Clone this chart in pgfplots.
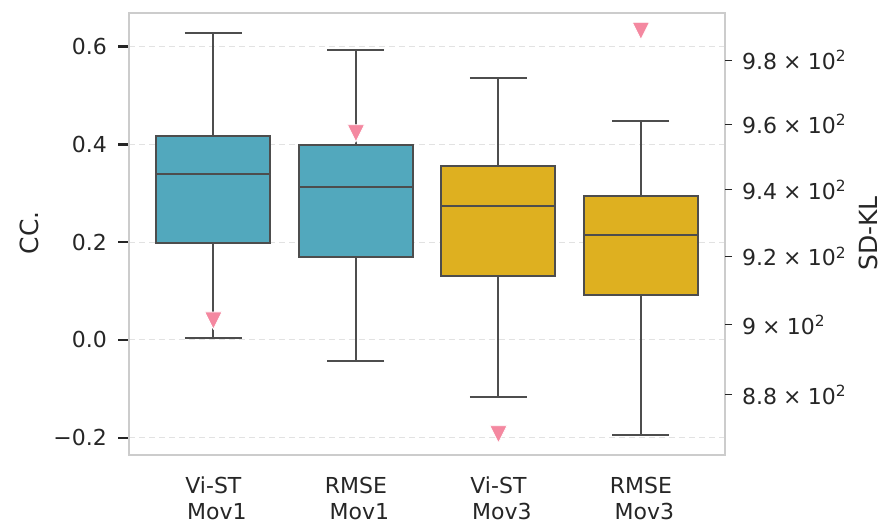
\documentclass[border=0pt]{standalone}
\usepackage{fontspec}
\setmainfont{DejaVu Sans}
\usepackage{pgfplots}
\usepackage{pgfplotstable}
\pgfplotsset{compat=1.18}
\usepgfplotslibrary{statistics}
\definecolor{cblue}{RGB}{82,168,189}
\definecolor{cyellow}{RGB}{222,176,32}
\definecolor{cpink}{RGB}{244,136,160}
\definecolor{cedge}{RGB}{77,77,77}
\definecolor{cframe}{RGB}{204,204,204}
\definecolor{cgrid}{RGB}{226,226,226}
\definecolor{ctext}{RGB}{38,38,38}
\pgfdeclareplotmark{tridown}{%
  \pgfpathmoveto{\pgfpoint{0pt}{-\pgfplotmarksize}}%
  \pgfpathlineto{\pgfpoint{-\pgfplotmarksize}{\pgfplotmarksize}}%
  \pgfpathlineto{\pgfpoint{\pgfplotmarksize}{\pgfplotmarksize}}%
  \pgfpathclose
  \pgfusepathqfillstroke}
\pgfplotstableread{
x y
0 901.2
1 957.2
2 868.8
3 989.3
}\sdkl
\newcommand{\sk}[1]{#1\hspace{0.28em}×\hspace{0.28em}10\textsuperscript{2}}
\pgfplotsset{
  base/.style={at={(0,0)}, anchor=south west,
    scale only axis, width=297.85pt, height=220.85pt,
    xmin=-0.59, xmax=3.59},
}
\begin{document}
\begin{tikzpicture}
\begin{axis}[base, ymin=-0.2352, ymax=0.6681,
  ytick={-0.2,0,0.2,0.4,0.6}, yticklabels={}, xtick=\empty,
  major tick length=0pt, tick style={draw=none},
  axis line style={draw=none},
  ymajorgrids, y grid style={cgrid, dash pattern=on 3pt off 2pt, line width=0.5pt}]
\end{axis}
\begin{axis}[base, ymin=-0.2352, ymax=0.6681,
  axis line style={draw=cframe, line width=1.2pt},
  ytick={-0.2,0,0.2,0.4,0.6}, yticklabels={−0.2,0.0,0.2,0.4,0.6},
  ytick pos=left, tick align=outside, major tick length=5.5pt,
  ytick style={draw=ctext, line width=1.2pt, solid},
  xtick={0,1,2,3},
  xticklabels={{Vi-ST\\\hspace*{0.318em}Mov1},{RMSE\\\hspace*{0.318em}Mov1},{Vi-ST\\\hspace*{0.318em}Mov3},{RMSE\\\hspace*{0.318em}Mov3}},
  xtick style={draw=none},
  tick label style={font=\fontsize{11}{13}\selectfont, text=ctext},
  yticklabel style={anchor=east, inner sep=0pt, xshift=-5.5pt},
  xticklabel style={align=center, anchor=north, inner sep=0pt, yshift=-5.3pt},
  boxplot/draw direction=y,
]
\addplot[fill=cblue, draw=cedge, line width=1pt, boxplot prepared={draw position=0, lower whisker=0.0034, lower quartile=0.198, median=0.339, upper quartile=0.417, upper whisker=0.628, box extend=0.8, whisker extend=0.4}] coordinates {};
\addplot[fill=cblue, draw=cedge, line width=1pt, boxplot prepared={draw position=1, lower whisker=-0.044, lower quartile=0.169, median=0.312, upper quartile=0.399, upper whisker=0.594, box extend=0.8, whisker extend=0.4}] coordinates {};
\addplot[fill=cyellow, draw=cedge, line width=1pt, boxplot prepared={draw position=2, lower whisker=-0.116, lower quartile=0.13, median=0.275, upper quartile=0.356, upper whisker=0.535, box extend=0.8, whisker extend=0.4}] coordinates {};
\addplot[fill=cyellow, draw=cedge, line width=1pt, boxplot prepared={draw position=3, lower whisker=-0.194, lower quartile=0.092, median=0.215, upper quartile=0.295, upper whisker=0.447, box extend=0.8, whisker extend=0.4}] coordinates {};
\end{axis}
\begin{axis}[base, ymode=log, ymin=863.1, ymax=995.0,
  hide x axis, axis y line*=right, y axis line style={draw=none},
  ytick={880,900,920,940,960,980},
  yticklabels={\sk{8.8},\sk{9},\sk{9.2},\sk{9.4},\sk{9.6},\sk{9.8}},
  yminorticks=false, tick align=outside, major tick length=3.5pt,
  ytick style={draw=ctext, line width=0.7pt, solid},
  tick label style={font=\fontsize{11}{13}\selectfont, text=ctext},
  yticklabel style={anchor=west, inner sep=0pt, xshift=4.85pt},
  clip=false,
]
\addplot[only marks, mark=tridown, mark size=4.3pt, mark options={fill=cpink, draw=white, line width=0.4pt}] table[x=x,y=y] {\sdkl};
\end{axis}
\node[rotate=90, font=\fontsize{12.5}{15}\selectfont, text=ctext] at (-50pt,111pt) {CC.};
\node[rotate=90, font=\fontsize{12.5}{15}\selectfont, text=ctext] at (369.75pt,110.8pt) {SD-KL};
\pgfresetboundingbox
\path (-64.65pt,-34pt) rectangle (377.35pt,227.5pt);
\end{tikzpicture}
\end{document}
